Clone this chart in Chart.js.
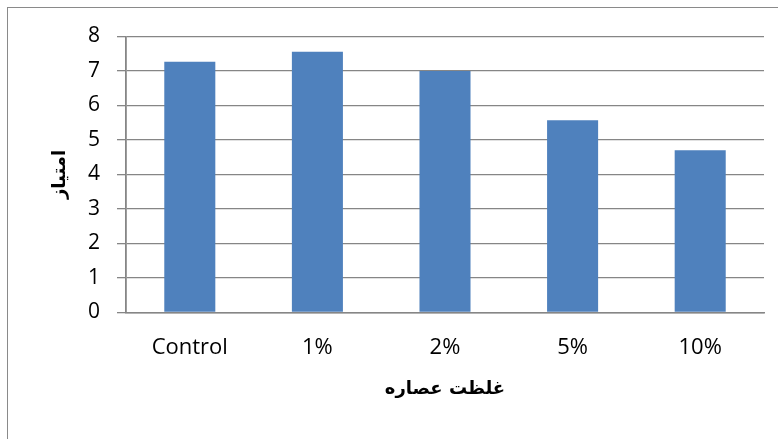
<!DOCTYPE html>
<html>
<head>
<meta charset="utf-8">
<script src="https://cdn.jsdelivr.net/npm/chart.js@4.4.1/dist/chart.umd.min.js"></script>
<style>
  html, body { margin: 0; padding: 0; background: #fff; overflow: hidden; }
  #wrap { position: absolute; left: 0; top: 0; width: 778px; height: 439px; }
  #frame { position: absolute; left: 7px; top: 7px; width: 900px; height: 600px; border: 1px solid #8a8a8a; box-sizing: border-box; }
  canvas { position: absolute; left: 0; top: 0; }
</style>
</head>
<body>
<div id="wrap">
  <div id="frame"></div>
  <canvas id="chart" width="778" height="439"></canvas>
</div>
<script>
// categories (extract concentration) and the score for each
const categories = ['Control', '1%', '2%', '5%', '10%'];
const scores = [7.27, 7.56, 7.0, 5.57, 4.7];
const yTicks = [0, 1, 2, 3, 4, 5, 6, 7, 8];

const xTitle = 'غلظت عصاره';
const yTitle = 'امتیاز';

const gridColor = '#868686';

const ctx = document.getElementById('chart').getContext('2d');
new Chart(ctx, {
    type: 'bar',
    data: {
        labels: categories,
        datasets: [
            {
                label: yTitle,
                data: scores,
                backgroundColor: '#4F81BD',
                borderWidth: 0,
                barPercentage: 0.4,
                categoryPercentage: 1.0,
            },
        ],
    },
    options: {
        responsive: false,
        animation: false,
        layout: {
            padding: { left: 0, top: 36.5, right: 14, bottom: 0 },
        },
        scales: {
            x: {
                grid: { display: false, drawTicks: false },
                border: { display: true, color: gridColor, width: 1.5 },
                ticks: {
                    color: '#000',
                    padding: 22,
                    font: { family: 'Open Sans', size: 22 },
                    maxRotation: 0,
                },
                title: {
                    display: true,
                    text: xTitle,
                    color: '#000',
                    font: { family: 'DejaVu Sans', size: 18, weight: 'bold' },
                    padding: { top: 0, bottom: 39 },
                },
                afterFit: (scale) => { scale.height = 126.5; },
            },
            y: {
                min: 0,
                max: 8,
                afterBuildTicks: (scale) => { scale.ticks = yTicks.map(v => ({ value: v })); },
                grid: {
                    color: gridColor,
                    lineWidth: 1.3,
                    tickLength: 9,
                },
                border: { display: true, color: gridColor, width: 1.8 },
                ticks: {
                    color: '#000',
                    padding: 17,
                    font: { family: 'Open Sans', size: 21 },
                },
                title: {
                    display: true,
                    text: yTitle,
                    color: '#000',
                    font: { family: 'DejaVu Sans', size: 18, weight: 'bold' },
                    padding: { top: 50, bottom: 0 },
                },
                afterFit: (scale) => { scale.width = 126; },
            },
        },
        plugins: {
            legend: { display: false },
            tooltip: { enabled: false },
        },
    },
});
</script>
</body>
</html>
